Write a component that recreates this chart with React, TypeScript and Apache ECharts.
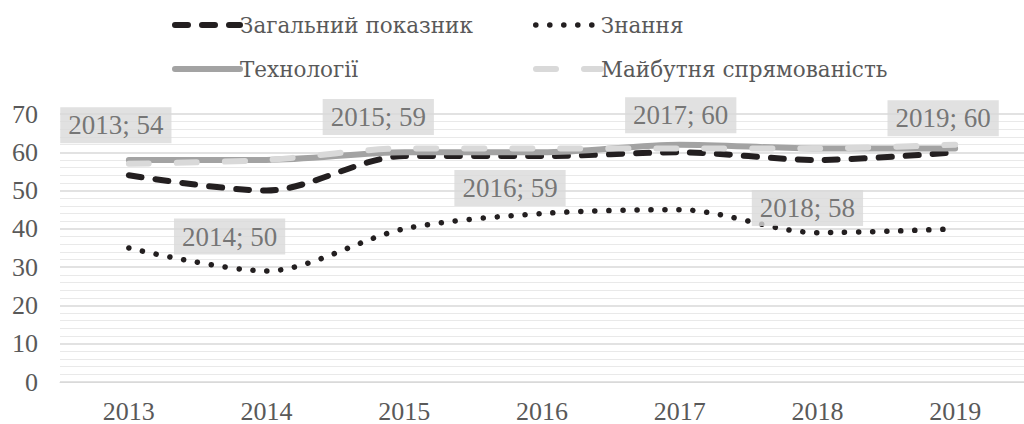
import React, { useEffect, useRef } from "react";
import * as echarts from "echarts";

const years = ["2013", "2014", "2015", "2016", "2017", "2018", "2019"];
const overall = [54, 50, 59, 59, 60, 58, 60];
const knowledge = [35, 29, 40, 44, 45, 39, 40];
const technology = [58, 58, 60, 60, 62, 61, 61];
const future = [57, 58, 61, 61, 61, 61, 62];
const seriesNames = ["Загальний показник", "Знання", "Технології", "Майбутня спрямованість"];
const yMin = 0;
const yMax = 70;
const yStep = 10;

// label placement (style only): offset of each data label from its point
const labelOffsets: [number, number][] = [
  [-13, -50],
  [-37, 46],
  [-26, -39],
  [-32, 32],
  [1, -37],
  [-10, 48],
  [-12, -34],
];

const TXT = "#595959";
const NUM_FONT = "Liberation Serif";
const CYR_FONT = "DejaVu Serif";

export default function App() {
  const ref = useRef<HTMLDivElement>(null);
  useEffect(() => {
    document.body.style.margin = "0";
    const chart = echarts.init(ref.current!, null, { renderer: "svg" });
    const styles = [
      { color: "#231f20", width: 6, type: [13, 14], cap: "round" },
      { color: "#231f20", width: 5.5, type: [0.1, 13.9], cap: "round" },
      { color: "#a3a3a3", width: 6, type: "solid", cap: "round" },
      { color: "#d9d9d9", width: 6, type: [20, 28], cap: "round" },
    ];
    const data = [overall, knowledge, technology, future];
    const legendPos = [
      { left: 172, top: 14 },
      { left: 533, top: 14 },
      { left: 172, top: 58 },
      { left: 533, top: 58 },
    ];
    chart.setOption({
      animation: false,
      legend: seriesNames.map((n, i) => ({
        data: [n],
        left: legendPos[i].left,
        top: legendPos[i].top,
        itemWidth: 65,
        itemHeight: 24,
        itemGap: 0,
        padding: 0,
        selectedMode: false,
        itemStyle: { opacity: 0 },
        lineStyle: { width: styles[i].width, type: styles[i].type, cap: "round", color: styles[i].color },
        textStyle: { fontFamily: CYR_FONT, fontSize: 21.5, color: TXT, padding: [i < 2 ? 3 : 5, 0, 0, -5] },
      })),
      grid: { left: 60, right: -13, top: 114, bottom: 41 },
      xAxis: {
        type: "category",
        data: years,
        boundaryGap: true,
        axisLine: { show: true, lineStyle: { color: "#d9d9d9", width: 1 } },
        axisTick: { show: false },
        axisLabel: { fontFamily: NUM_FONT, fontSize: 26, color: TXT, margin: 16 },
      },
      yAxis: {
        type: "value",
        min: yMin,
        max: yMax,
        interval: yStep,
        axisLine: { show: false },
        axisTick: { show: false },
        axisLabel: { fontFamily: NUM_FONT, fontSize: 26, color: TXT, margin: 22 },
        splitLine: { show: true, lineStyle: { color: "#d9d9d9", width: 1.5 } },
        minorTick: { show: false, splitNumber: 5 },
        minorSplitLine: { show: true, lineStyle: { color: "#e9e9e9", width: 1 } },
      },
      series: [
        ...data.map((d, i) => ({
          name: seriesNames[i],
          type: "line",
          data: d,
          smooth: 0.3,
          symbol: "none",
          z: 2 + i,
          lineStyle: {
            color: styles[i].color,
            width: styles[i].width,
            type: styles[i].type,
            cap: styles[i].cap,
            join: "round",
          },
          itemStyle: { color: styles[i].color },
        })),
        {
          name: "labels",
          type: "scatter",
          symbolSize: 0,
          silent: true,
          z: 20,
          data: overall.map((v, i) => ({
            value: v,
            label: {
              show: true,
              position: "inside",
              offset: labelOffsets[i],
              formatter: `${years[i]}; ${v}`,
              backgroundColor: "#d9d9d9",
              color: TXT,
              fontFamily: NUM_FONT,
              fontSize: 27,
              padding: [5, 8, 4, 8],
            },
          })),
        },
      ],
    });
    return () => chart.dispose();
  }, []);
  return <div ref={ref} style={{ width: 1024, height: 424 }} />;
}
